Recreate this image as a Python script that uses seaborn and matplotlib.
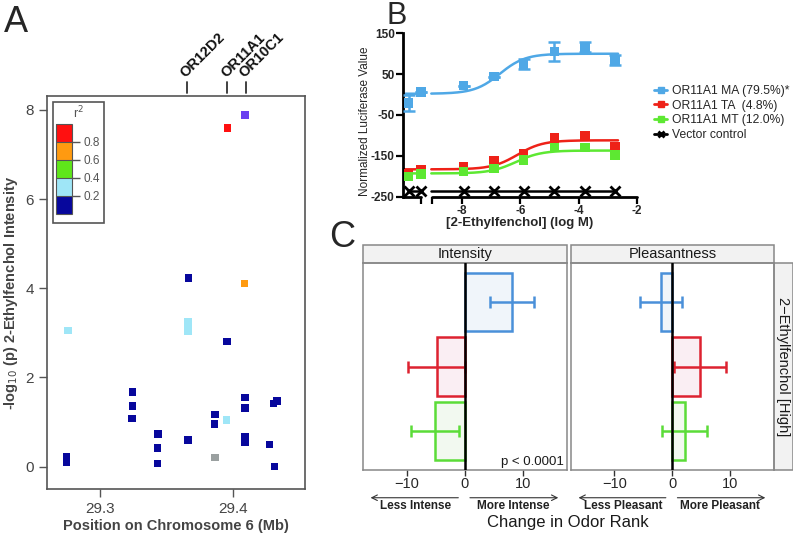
import numpy as np
import pandas as pd
import seaborn as sns
import matplotlib.pyplot as plt
from matplotlib.colors import ListedColormap, BoundaryNorm
from matplotlib.cm import ScalarMappable
from matplotlib.lines import Line2D
from matplotlib.patches import Rectangle
import matplotlib.transforms as mtransforms

sns.set_style("ticks")
plt.rcParams['font.family'] = ['Liberation Sans', 'DejaVu Sans']
plt.rcParams['axes.unicode_minus'] = False

# ---------------- Panel A data (regional association) ----------------
snp_pos = [29.276, 29.275, 29.275, 29.3246, 29.3246, 29.3243, 29.3436, 29.3433,
           29.3433, 29.3664, 29.3660, 29.3660, 29.3660, 29.3660, 29.3955, 29.3952,
           29.3866, 29.3862, 29.3866, 29.4085, 29.4088, 29.4088, 29.4088, 29.4088,
           29.4090, 29.3960, 29.4329, 29.4303, 29.4273, 29.4313]
snp_logp = [3.05, 0.22, 0.09, 1.67, 1.36, 1.08, 0.73, 0.42,
            0.07, 4.23, 3.25, 3.14, 3.03, 0.60, 2.81, 1.05,
            1.17, 0.96, 0.21, 4.11, 1.55, 1.31, 0.67, 0.56,
            7.89, 7.59, 1.47, 1.42, 0.50, 0.00]
snp_r2 = ['0.2-0.4', '0-0.2', '0-0.2', '0-0.2', '0-0.2', '0-0.2', '0-0.2', '0-0.2',
          '0-0.2', '0-0.2', '0.2-0.4', '0.2-0.4', '0.2-0.4', '0-0.2', '0-0.2', '0.2-0.4',
          '0-0.2', '0-0.2', 'NA', '0.6-0.8', '0-0.2', '0-0.2', '0-0.2', '0-0.2',
          'lead', '0.8-1', '0-0.2', '0-0.2', '0-0.2', '0-0.2']
r2_colors = {'0-0.2': '#07079c', '0.2-0.4': '#9fe6f7', '0.4-0.6': '#5fe61a',
             '0.6-0.8': '#ff9a10', '0.8-1': '#ff1010', 'lead': '#6a3ff0', 'NA': '#9aa0a0'}
r2_bins = [0, 0.2, 0.4, 0.6, 0.8, 1.0]
r2_bin_names = ['0-0.2', '0.2-0.4', '0.4-0.6', '0.6-0.8', '0.8-1']
gene_names = ['OR12D2', 'OR11A1', 'OR10C1']
gene_pos = [29.3652, 29.3957, 29.4095]

# ---------------- Panel B data (luciferase dose response) ----------------
dose_log = [-9.83, -9.40, -7.94, -6.91, -5.89, -4.83, -3.79, -2.75]
ma_resp = [-20, 7, 22, 44, 75, 105, 117, 85]
ma_err = [20, 0, 0, 0, 13, 23, 12, 13]
ta_resp = [-193, -185, -177, -163, -145, -107, -101, -128]
mt_resp = [-201, -194, -188, -181, -160, -130, -130, -148]
vec_resp = [-236, -236, -236, -236, -236, -236, -236, -236]
constructs = ['OR11A1 MA (79.5%)*', 'OR11A1 TA  (4.8%)', 'OR11A1 MT (12.0%)']
# fitted sigmoid parameters: bottom, top, logEC50
fit_params = {'OR11A1 MA (79.5%)*': (2, 100, -6.7),
              'OR11A1 TA  (4.8%)': (-183, -112, -6.1),
              'OR11A1 MT (12.0%)': (-193, -137, -6.15)}
b_colors = {'OR11A1 MA (79.5%)*': '#4fa8e6', 'OR11A1 TA  (4.8%)': '#ee2218',
            'OR11A1 MT (12.0%)': '#5de832'}

# ---------------- Panel C data (odor rank change) ----------------
alleles = ['MA', 'TA', 'MT']
intensity_mean = [8.2, -4.8, -5.1]
intensity_err = [3.8, 4.9, 4.2]
pleasant_mean = [-1.9, 4.8, 2.2]
pleasant_err = [3.6, 4.5, 3.9]
c_edge = {'MA': '#4a90d9', 'TA': '#dd2230', 'MT': '#5bdc38'}
c_fill = {'MA': '#eef5fc', 'TA': '#fcecf2', 'MT': '#f1fbee'}

W, H = 793, 539
fig = plt.figure(figsize=(W / 100, H / 100), dpi=100)


def box(l, t, r, b):
    return [l / W, 1 - b / H, (r - l) / W, (b - t) / H]


# ======================= Panel A =======================
axA = fig.add_axes(box(47, 96, 305, 489))
dfA = pd.DataFrame({'pos': snp_pos, 'logp': snp_logp, 'r2': snp_r2})
sns.scatterplot(data=dfA, x='pos', y='logp', hue='r2', palette=r2_colors, marker='s',
                s=30, edgecolor='none', legend=False, ax=axA, zorder=3)
axA.set_xlim(29.2602, 29.4541)
axA.set_ylim(-0.5, 8.31)
axA.set_xticks([29.3, 29.4])
axA.set_yticks([0, 2, 4, 6, 8])
axA.tick_params(direction='out', length=6, width=1, color='#555555',
                labelcolor='#444444', labelsize=11)
for sp in axA.spines.values():
    sp.set_visible(True)
    sp.set_color('#555555')
    sp.set_linewidth(1.2)
axA.set_xlabel('Position on Chromosome 6 (Mb)', fontsize=10.5, fontweight='bold',
               color='#444444', labelpad=2)
axA.set_ylabel('-log$_{10}$ (p) 2-Ethylfenchol Intensity', fontsize=10.5,
               fontweight='bold', color='#444444', labelpad=4)

trA = axA.get_xaxis_transform()
for g, gx in zip(gene_names, gene_pos):
    axA.plot([gx, gx], [1.008, 1.036], color='#333333', lw=1.3, transform=trA, clip_on=False)
    axA.text(gx - 0.0008, 1.047, g, transform=trA, rotation=45, rotation_mode='anchor',
             ha='left', va='baseline', fontsize=10.5, fontweight='bold', color='#111111')

# r2 colour key
cax = fig.add_axes(box(56, 124, 72, 214))
cmap = ListedColormap([r2_colors[k] for k in r2_bin_names])
norm = BoundaryNorm(r2_bins, cmap.N)
cb = fig.colorbar(ScalarMappable(norm=norm, cmap=cmap), cax=cax, ticks=[0.2, 0.4, 0.6, 0.8],
                  drawedges=True)
cb.ax.set_yticklabels(['0.2', '0.4', '0.6', '0.8'])
cb.ax.minorticks_off()
cb.ax.tick_params(length=6, width=1, color='#555555', labelcolor='#555555', labelsize=8.5, pad=2)
cb.outline.set_edgecolor('#555555')
cb.dividers.set_color('#555555')
cb.dividers.set_linewidth(0.8)
fig.patches.append(Rectangle((53 / W, 1 - 223 / H), 51 / W, 121 / H, transform=fig.transFigure,
                             fill=False, edgecolor='#555555', lw=1.2))
fig.text(78 / W, 1 - 113 / H, 'r$^2$', ha='center', va='center', fontsize=9, color='#555555')

# ======================= Panel B =======================
axB = fig.add_axes(box(403, 33.3, 637, 196.7))
rows = []
for name in constructs:
    bottom, top, ec50 = fit_params[name]
    for seg, (x0, x1, n) in enumerate([(-10.0, -9.35, 15), (-9.05, -2.65, 150)]):
        for xv in np.linspace(x0, x1, n):
            rows.append((name, seg, xv, bottom + (top - bottom) / (1 + 10 ** (ec50 - xv))))
curve_df = pd.DataFrame(rows, columns=['construct', 'segment', 'logc', 'resp'])
sns.lineplot(data=curve_df, x='logc', y='resp', hue='construct', units='segment',
             estimator=None, palette=b_colors, lw=1.8, legend=False, ax=axB)

pts = pd.DataFrame({'logc': dose_log * 3, 'resp': ma_resp + ta_resp + mt_resp,
                    'construct': [c for c in constructs for _ in dose_log]})
sns.scatterplot(data=pts, x='logc', y='resp', hue='construct', palette=b_colors, marker='s',
                s=48, edgecolor='none', legend=False, ax=axB, zorder=4, clip_on=False)
axB.errorbar(dose_log, ma_resp, yerr=ma_err, fmt='none', ecolor=b_colors[constructs[0]],
             elinewidth=1.8, capsize=4, capthick=1.8, zorder=4)
axB.plot(dose_log[:2], vec_resp[:2], color='black', lw=1.8, marker='x', ms=7, mew=2, zorder=5,
         clip_on=False)
axB.plot([-9.05] + dose_log[2:], vec_resp[2:3] + vec_resp[2:], color='black', lw=1.8, zorder=5)
axB.plot(dose_log[2:], vec_resp[2:], color='black', lw=0, marker='x', ms=7, mew=2, zorder=5)

axB.set_xlim(-10.02, -2)
axB.set_ylim(-250, 150)
sns.despine(ax=axB)
axB.spines['bottom'].set_visible(False)
axB.spines['left'].set_linewidth(2)
axB.spines['left'].set_color('black')
axB.plot([-10.02, -9.4], [-250, -250], color='black', lw=2, clip_on=False, zorder=6)
axB.plot([-9.02, -2], [-250, -250], color='black', lw=2, clip_on=False, zorder=6)
axB.set_xticks([-9.4, -9.02, -8, -6, -4, -2])
axB.set_xticklabels(['', '', '-8', '-6', '-4', '-2'])
axB.set_yticks([150, 50, -50, -150, -250])
axB.set_yticklabels(['150', '50', '-50', '-150', '-250'])
axB.tick_params(direction='out', length=5, width=1.6, color='black', labelsize=8.5, pad=1)
for lab in axB.get_xticklabels() + axB.get_yticklabels():
    lab.set_fontweight('bold')
axB.set_xlabel('[2-Ethylfenchol] (log M)', fontsize=9.5, fontweight='bold', labelpad=0)
axB.set_ylabel('Normalized Luciferase Value', fontsize=8.5, labelpad=1)
axB.yaxis.set_label_coords(-0.135, 0.46)

handles = [Line2D([0], [0], color=b_colors[c], lw=2, marker='s', ms=5) for c in constructs]
handles.append(Line2D([0], [0], color='black', lw=2, marker='x', ms=5, mew=2))
fig.legend(handles, constructs + ['Vector control'], loc='upper left',
           bbox_to_anchor=(648 / W, 1 - 79 / H), frameon=False, fontsize=8.7,
           handlelength=1.1, handletextpad=0.35, labelspacing=0.22, borderpad=0)

# ======================= Panel C =======================
dfC = pd.DataFrame({'allele': alleles * 2,
                    'facet': ['Intensity'] * 3 + ['Pleasantness'] * 3,
                    'change': intensity_mean + pleasant_mean,
                    'err': intensity_err + pleasant_err})
axC1 = fig.add_axes(box(363, 263, 567, 470))
axC2 = fig.add_axes(box(571, 263, 774, 470))
arrow_txt = {'Intensity': ('Less Intense', 'More Intense'),
             'Pleasantness': ('Less Pleasant', 'More Pleasant')}
for ax, facet in [(axC1, 'Intensity'), (axC2, 'Pleasantness')]:
    sub = dfC[dfC.facet == facet]
    sns.barplot(data=sub, x='change', y='allele', hue='allele', order=alleles, hue_order=alleles,
                palette=c_fill, orient='h', width=0.9, errorbar=None, legend=False,
                linewidth=1.8, ax=ax)
    for cont, a in zip(ax.containers, alleles):
        for p in cont:
            p.set_edgecolor(c_edge[a])
    for i, a in enumerate(alleles):
        r = sub[sub.allele == a].iloc[0]
        ax.errorbar([r.change], [i], xerr=[r.err], fmt='none', ecolor=c_edge[a],
                    elinewidth=1.8, capsize=4.5, capthick=1.8, zorder=3)
    ax.axvline(0, color='black', lw=1.8, zorder=4)
    ax.set_xlim(-17.5, 17.6)
    ax.set_ylim(2.6, -0.6)
    ax.set_xticks([-10, 0, 10])
    ax.set_xticklabels(['\u221210', '0', '10'])
    ax.tick_params(axis='x', direction='out', length=4, width=1, color='#333333',
                   labelsize=10.5, pad=1)
    ax.tick_params(axis='y', left=False, labelleft=False)
    ax.set_xlabel('')
    ax.set_ylabel('')
    for sp in ax.spines.values():
        sp.set_visible(True)
        sp.set_color('#888888')
        sp.set_linewidth(1.1)
    # facet strip
    ax.add_patch(Rectangle((0, 1), 1, 18 / 207, transform=ax.transAxes, clip_on=False,
                           facecolor='#f2f2f2', edgecolor='#888888', lw=1.1))
    ax.text(0.5, 1 + 9 / 207, facet, transform=ax.transAxes, ha='center', va='center',
            fontsize=10.5, color='#1a1a1a')
    # direction arrows
    lo, hi = arrow_txt[facet]
    bt = mtransforms.blended_transform_factory(ax.transData, ax.transAxes)
    ax.annotate('', xy=(-16.2, -0.134), xytext=(-1.1, -0.134), xycoords=bt, textcoords=bt,
                arrowprops=dict(arrowstyle='->', lw=0.8, color='#333333', shrinkA=0, shrinkB=0),
                annotation_clip=False)
    ax.annotate('', xy=(16.1, -0.134), xytext=(0.9, -0.134), xycoords=bt, textcoords=bt,
                arrowprops=dict(arrowstyle='->', lw=0.8, color='#333333', shrinkA=0, shrinkB=0),
                annotation_clip=False)
    ax.text(-8.4, -0.176, lo, transform=bt, ha='center', va='center', fontsize=8.5,
            fontweight='bold', color='#222222')
    ax.text(8.3, -0.176, hi, transform=bt, ha='center', va='center', fontsize=8.5,
            fontweight='bold', color='#222222')

axC1.text(0.985, 0.012, 'p < 0.0001', transform=axC1.transAxes, ha='right', va='bottom',
          fontsize=9.5, color='#1a1a1a')
axC2.add_patch(Rectangle((1, 0), 19 / 203, 1, transform=axC2.transAxes, clip_on=False,
                         facecolor='#f2f2f2', edgecolor='#888888', lw=1.1))
axC2.text(1 + 9.5 / 203, 0.5, '2\u2212Ethylfenchol [High]', transform=axC2.transAxes,
          rotation=-90, ha='center', va='center', fontsize=10.5, color='#1a1a1a')
fig.text(568 / W, 1 - 523 / H, 'Change in Odor Rank', ha='center', va='center', fontsize=12,
         color='#1a1a1a')

# panel letters
fig.text(16 / W, 1 - 22 / H, 'A', ha='center', va='center', fontsize=26)
fig.text(397 / W, 1 - 16 / H, 'B', ha='center', va='center', fontsize=22)
fig.text(342 / W, 1 - 238 / H, 'C', ha='center', va='center', fontsize=26)

fig.savefig('out.png', dpi=100)
